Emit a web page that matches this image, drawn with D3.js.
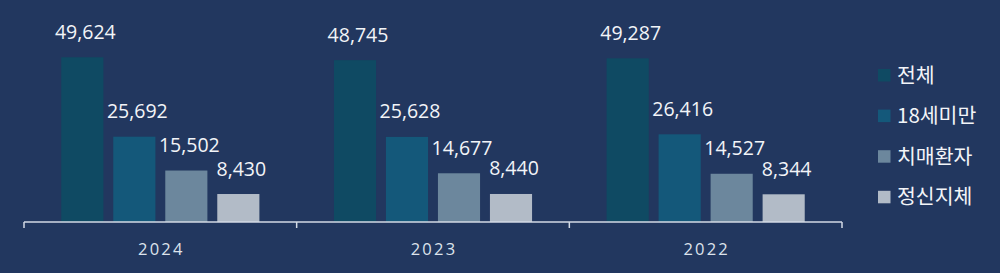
<!DOCTYPE html>
<html><head><meta charset="utf-8">
<script src="https://cdn.jsdelivr.net/npm/d3@7"></script>
<style>
html,body{margin:0;padding:0;background:#22375f;}
svg{display:block;}
</style></head>
<body>
<svg id="c" width="1000" height="273"></svg>
<script>
const years = ["2024", "2023", "2022"];
const seriesNames = ["전체", "18세미만", "치매환자", "정신지체"];
const values2024 = [49624, 25692, 15502, 8430];
const values2023 = [48745, 25628, 14677, 8440];
const values2022 = [49287, 26416, 14527, 8344];
const colors = ["#0f4a63", "#14587a", "#6c879d", "#b2bbc7"];

const valuesByYear = {"2024": values2024, "2023": values2023, "2022": values2022};

const svg = d3.select("#c");
const W = 1000, H = 273;
svg.append("rect").attr("width", W).attr("height", H).attr("fill", "#22375f");

const x0 = d3.scaleBand().domain(years).range([24, 842]).padding(0);
const innerW = 208;
const x1 = d3.scaleBand().domain(seriesNames)
  .range([(x0.bandwidth() - innerW) / 2, (x0.bandwidth() + innerW) / 2])
  .paddingInner(0.19).paddingOuter(0.095);
const y = d3.scaleLinear().domain([0, 50000]).range([222, 56]);
const color = d3.scaleOrdinal().domain(seriesNames).range(colors);

const groups = svg.selectAll("g.grp").data(years).join("g")
  .attr("class", "grp")
  .attr("transform", d => `translate(${x0(d)},0)`);

const cells = groups.selectAll("g.cell")
  .data(yr => seriesNames.map((s, i) => ({yr, s, v: valuesByYear[yr][i]})))
  .join("g").attr("class", "cell");

cells.append("rect")
  .attr("x", d => x1(d.s))
  .attr("width", x1.bandwidth())
  .attr("y", d => y(d.v))
  .attr("height", d => y(0) - y(d.v))
  .attr("fill", d => color(d.s));

cells.append("text")
  .attr("x", d => x1(d.s) + x1.bandwidth() / 2 + 3)
  .attr("y", d => y(d.v) - 18.5)
  .attr("text-anchor", "middle")
  .attr("font-family", "'Open Sans', 'Noto Sans', sans-serif")
  .attr("font-size", 19.5)
  .attr("fill", "#f2f4f8")
  .text(d => d3.format(",")(d.v));

// x axis
const axis = d3.axisBottom(x0).tickSize(0).tickPadding(0);
const ax = svg.append("g").attr("transform", `translate(0,${y(0)})`).call(axis);
ax.select(".domain").remove();
ax.selectAll("text")
  .attr("y", 33)
  .attr("dy", 0)
  .attr("dx", 1)
  .attr("font-family", "'Open Sans', 'Noto Sans', sans-serif")
  .attr("font-size", 16.5)
  .attr("letter-spacing", "2.2px")
  .attr("fill", "#dde3ec");
const r = x0.range();
ax.append("line").attr("x1", r[0]).attr("x2", r[1]).attr("y1", 0).attr("y2", 0)
  .attr("stroke", "#d3dae5").attr("stroke-width", 1.5);
const bounds = years.map(d => x0(d)).concat([x0(years[years.length - 1]) + x0.bandwidth()]);
ax.selectAll("line.tk").data(bounds).join("line").attr("class", "tk")
  .attr("x1", d => d).attr("x2", d => d).attr("y1", 0).attr("y2", 6)
  .attr("stroke", "#d3dae5").attr("stroke-width", 1.5);

// legend
const lg = svg.append("g").selectAll("g").data(seriesNames).join("g")
  .attr("transform", (d, i) => `translate(878,${75 + i * 40.6})`);
lg.append("rect").attr("x", 0).attr("y", -6).attr("width", 12.5).attr("height", 12.5)
  .attr("fill", d => color(d));
lg.append("text").attr("x", 19).attr("y", 7.5)
  .attr("font-family", "'Noto Sans CJK KR', 'Noto Sans', sans-serif")
  .attr("font-size", 20.5)
  .attr("fill", "#f2f4f8")
  .text(d => d);
</script>
</body></html>
